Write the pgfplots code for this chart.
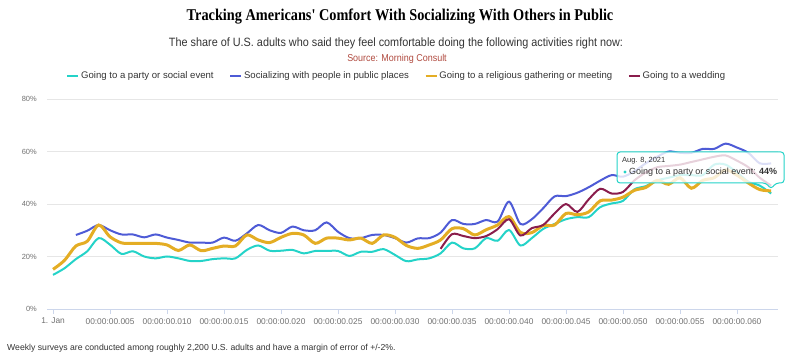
\documentclass[border=0pt]{standalone}
\usepackage{fontspec}
\setmainfont{Liberation Sans}
\newfontfamily\titlefont[FakeStretch=0.87]{Liberation Serif}
\newfontfamily\condfont[FakeStretch=0.9]{Liberation Sans}
\usepackage{pgfplots}
\pgfplotsset{compat=1.18}
\definecolor{cParty}{HTML}{24D3C8}
\definecolor{cSocial}{HTML}{4E5BD6}
\definecolor{cRelig}{HTML}{E4AD24}
\definecolor{cWed}{HTML}{8A1D4C}
\definecolor{hcaxis}{HTML}{CCD6EB}
\definecolor{hcgrid}{HTML}{E6E6E6}
\definecolor{hclabel}{HTML}{707070}
\definecolor{hctext}{HTML}{333333}
\definecolor{srccol}{HTML}{B04A3F}

\pgfplotstableread{
x y
0 13
1 15.5
2 19
3 22
4 27
5 24.5
6 21
7 22
8 20
9 19.3
10 20
11 19.3
12 18.3
13 18.3
14 19
15 19.3
16 19.3
17 22.5
18 24.2
19 22.2
20 22.2
21 22.5
22 21.2
23 22.1
24 22.1
25 22.1
26 20.2
27 21.8
28 21.8
29 22.8
30 20.6
31 18.2
32 18.9
33 19.3
34 21.2
35 25.3
36 23.1
37 23.1
38 27
39 26
40 30.1
41 24.2
42 27
43 30.5
44 32.4
45 34.2
46 35
47 35
48 38.8
49 40.2
50 41.2
51 45.6
52 46.8
53 49
54 50
55 51
56 51
57 51
58 55
59 55
60 52
61 48.5
62 47
63 44
}\party

\pgfplotstableread{
x y
2 28.2
3 29.8
4 32
5 30
6 28.4
7 28.4
8 27.3
9 28.4
10 27.2
11 26.3
12 25.3
13 25.3
14 25.3
15 27.2
16 26
17 28.8
18 32
19 30
20 29
21 31.4
22 30
23 30
24 33
25 29.4
26 27
27 27
28 28.2
29 28.2
30 27
31 25.3
32 26.9
33 27
34 29.1
35 33.9
36 32.4
37 32.4
38 33.9
39 33.3
40 40.9
41 32.4
42 34.2
43 38.4
44 42.9
45 43
46 44.3
47 46.4
48 48.9
49 51
50 50.4
51 52.5
52 55.5
53 58
54 60
55 59.5
56 59.5
57 61
58 61
59 63
60 61.5
61 59.5
62 55.5
63 55.5
}\social

\pgfplotstableread{
x y
0 15.1
1 18.5
2 24
3 25.8
4 32
5 27.5
6 25.2
7 25
8 25
9 25
10 24.4
11 22.3
12 24.4
13 22.2
14 23.1
15 24
16 24
17 28.2
18 26.3
19 25.3
20 27.3
21 28.8
22 28.2
23 25
24 27
25 27
26 26.3
27 27
28 25
29 28.2
30 27.3
31 24.2
32 23.1
33 24.4
34 26.3
35 30.6
36 30.6
37 28.2
38 30.2
39 32
40 35.2
41 29.2
42 29.1
43 31.8
44 32
45 36.4
46 35.9
47 37
48 41.2
49 41.5
50 42.6
51 45.2
52 46.3
53 49
54 47.5
55 50
56 46
57 49
58 50
59 53
60 51
61 48
62 45.5
63 45
}\religious

\pgfplotstableread{
x y
34 22.9
35 28.5
36 27.8
37 27
38 27.8
39 30.4
40 34.2
41 28
42 30.8
43 32
44 36.4
45 40
46 37
47 41.8
48 45.8
49 44
50 44.6
51 49
52 52
53 54
54 54.5
55 55
56 56
57 57
58 58
59 58.5
60 56.5
61 54
62 50
63 47
}\wedding

\begin{document}
\begin{tikzpicture}
\useasboundingbox (0,0) rectangle (800bp,361bp);
\begin{axis}[
  at={(47bp,52bp)}, anchor=south west,
  scale only axis, width=731bp, height=210bp,
  xmin=-0.53, xmax=63.6, ymin=0, ymax=80,
  axis x line*=bottom, axis y line*=left,
  x axis line style={draw=hcaxis, line width=0.8bp, -},
  y axis line style={draw=none},
  xtick={0,5,...,60},
  xticklabels={1. Jan,00:00:00.005,00:00:00.010,00:00:00.015,00:00:00.020,00:00:00.025,00:00:00.030,00:00:00.035,00:00:00.040,00:00:00.045,00:00:00.050,00:00:00.055,00:00:00.060},
  ytick={0,20,40,60,80},
  yticklabel={\pgfmathprintnumber{\tick}\%},
  /pgf/number format/assume math mode=true,
  x tick style={draw=hcaxis, line width=0.8bp},
  y tick style={draw=none},
  tick align=outside,
  xtick pos=bottom, ytick pos=left,
  major tick length=5bp,
  xticklabel style={font=\fontsize{8.4}{9}\selectfont, text=hclabel, inner sep=0pt, yshift=-4bp},
  yticklabel style={font=\fontsize{7.5}{9}\selectfont, text=hclabel, inner sep=0pt, xshift=-5bp},
  ymajorgrids, grid style={draw=hcgrid, line width=0.8bp},
  clip=false,
  legend columns=4,
  legend style={at={(0.478,1.11)}, anchor=center, draw=none, fill=none,
    font=\fontsize{9.6}{10}\selectfont, text=hctext,
    /tikz/every even column/.append style={column sep=14bp},
    nodes={inner sep=1.5bp}},
  legend image code/.code={\draw[#1, line width=2.5bp] (0bp,0bp) -- (11bp,0bp);},
]
\addplot[cParty, line width=2bp, smooth, tension=0.5] table[x=x,y=y] {\party};
\addlegendentry{Going to a party or social event}
\addplot[cSocial, line width=2bp, smooth, tension=0.5] table[x=x,y=y] {\social};
\addlegendentry{Socializing with people in public places}
\addplot[cRelig, line width=3bp, smooth, tension=0.5] table[x=x,y=y] {\religious};
\addlegendentry{Going to a religious gathering or meeting}
\addplot[cWed, line width=2bp, smooth, tension=0.5] table[x=x,y=y] {\wedding};
\addlegendentry{Going to a wedding}
\end{axis}

% title block
\node[font=\titlefont\bfseries\fontsize{16.5}{19}\selectfont, text=black] at (400bp,344bp) {Tracking Americans' Comfort With Socializing With Others in Public};
\node[font=\condfont\fontsize{12.1}{14}\selectfont, text=hctext] at (396bp,318bp) {The share of U.S. adults who said they feel comfortable doing the following activities right now:};
\node[font=\condfont\fontsize{10}{11}\selectfont, text=srccol] at (397bp,302bp) {Source: Morning Consult};

% tooltip
\draw[cParty, line width=1bp, rounded corners=3bp, fill=white, fill opacity=0.8]
  (617bp,178bp) -- (766bp,178bp) -- (771bp,172bp) -- (776bp,178bp) -- (784bp,178bp) -- (784bp,209bp) -- (617bp,209bp) -- cycle;
\node[anchor=west, font=\fontsize{7.5}{9}\selectfont, text=hctext, inner sep=0pt] at (622bp,200bp) {Aug. 8, 2021};
\fill[cParty] (625bp,189bp) circle (1.7bp);
\node[anchor=west, font=\fontsize{9}{10}\selectfont, text=hctext, inner sep=0pt] at (629bp,189bp) {Going to a party or social event: \textbf{44\%}};

% footnote
\node[anchor=west, font=\fontsize{8.7}{10}\selectfont, text=hctext, inner sep=0pt] at (7bp,13bp) {Weekly surveys are conducted among roughly 2,200 U.S. adults and have a margin of error of +/-2\%.};
\end{tikzpicture}
\end{document}
